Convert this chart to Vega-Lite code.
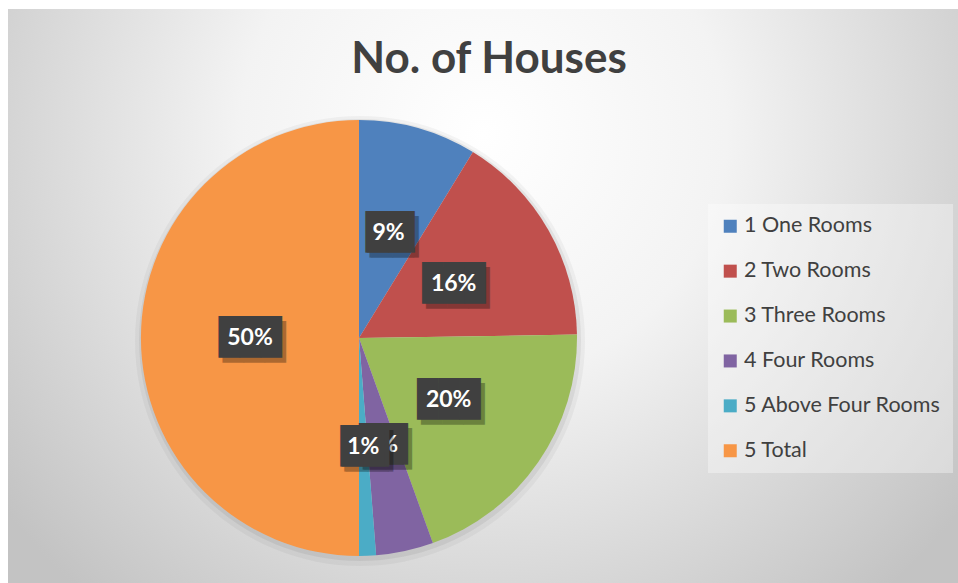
{
  "$schema": "https://vega.github.io/schema/vega-lite/v6.json",
  "width": 950,
  "height": 574,
  "autosize": "none",
  "padding": {"left": 8, "top": 9, "right": 0, "bottom": 0},
  "background": "#ffffff",
  "config": {"view": {"stroke": "#b8b8b8", "strokeWidth": 1}},
  "title": {
    "text": "No. of Houses",
    "font": "Lato",
    "fontSize": 44,
    "fontWeight": "bold",
    "color": "#404040",
    "anchor": "middle",
    "baseline": "middle",
    "offset": -95,
    "dx": 6
  },
  "datasets": {
    "houses": [
      {"category": "1 One Rooms", "houses": 35, "label": "9%"},
      {"category": "2 Two Rooms", "houses": 64, "label": "16%"},
      {"category": "3 Three Rooms", "houses": 79, "label": "20%"},
      {"category": "4 Four Rooms", "houses": 17, "label": "4%"},
      {"category": "5 Above Four Rooms", "houses": 5, "label": "1%"},
      {"category": "5 Total", "houses": 200, "label": "50%"}
    ]
  },
  "layer": [
    {
      "data": {"values": [{}]},
      "mark": {
        "type": "rect",
        "fill": {
          "gradient": "radial",
          "x1": 0.5, "y1": 0.33, "r1": 0,
          "x2": 0.5, "y2": 0.33, "r2": 0.64,
          "stops": [
            {"offset": 0, "color": "#ffffff"},
            {"offset": 0.4, "color": "#f3f3f3"},
            {"offset": 1, "color": "#c3c3c3"}
          ]
        }
      },
      "encoding": {}
    },
    {
      "data": {"values": [{}]},
      "mark": {"type": "arc", "x": 352, "y": 332, "outerRadius": 225, "fill": "#000000", "opacity": 0.04},
      "encoding": {"theta": {"value": 0}, "theta2": {"value": 6.2832}}
    },
    {
      "data": {"values": [{}]},
      "mark": {"type": "arc", "x": 352, "y": 331, "outerRadius": 221, "fill": "#000000", "opacity": 0.06},
      "encoding": {"theta": {"value": 0}, "theta2": {"value": 6.2832}}
    },
    {
      "data": {"name": "houses"},
      "mark": {"type": "arc", "outerRadius": 218, "x": 351, "y": 329},
      "encoding": {
        "theta": {"field": "houses", "type": "quantitative", "stack": true},
        "order": {"field": "category", "type": "ordinal"},
        "color": {
          "field": "category",
          "type": "nominal",
          "scale": {"range": ["#4F81BD", "#C0504D", "#9BBB59", "#8064A2", "#4BACC6", "#F79646"]},
          "legend": {
            "orient": "none",
            "legendX": 700,
            "legendY": 195,
            "title": null,
            "labelFont": "Lato",
            "labelFontSize": 21.5,
            "labelColor": "#404040",
            "labelLimit": 400,
            "labelOffset": 3,
            "symbolType": "square",
            "symbolSize": 169,
            "symbolStrokeWidth": 0,
            "padding": 11.5,
            "rowPadding": 21.9,
            "fillColor": "rgba(255,255,255,0.35)"
          }
        }
      }
    },
    {
      "data": {"name": "houses"},
      "mark": {"type": "text", "radius": 109, "x": 351, "y": 329, "font": "DejaVu Sans Mono", "fontSize": 35, "baseline": "middle", "align": "center", "fill": "#000000", "dx": 4, "dy": 5},
      "encoding": {
        "theta": {"field": "houses", "type": "quantitative", "stack": true},
        "order": {"field": "category", "type": "ordinal"},
        "opacity": {"condition": {"test": "datum.category === '5 Above Four Rooms'", "value": 0}, "value": 0.3},
        "text": {"condition": {"test": "length(datum.label) > 2", "value": "███"}, "value": "▕██▎"}
      }
    },
    {
      "data": {"name": "houses"},
      "mark": {"type": "text", "radius": 109, "x": 351, "y": 329, "font": "DejaVu Sans Mono", "fontSize": 35, "baseline": "middle", "align": "center", "fill": "#404040"},
      "encoding": {
        "theta": {"field": "houses", "type": "quantitative", "stack": true},
        "order": {"field": "category", "type": "ordinal"},
        "opacity": {"condition": {"test": "datum.category === '5 Above Four Rooms'", "value": 0}, "value": 1},
        "text": {"condition": {"test": "length(datum.label) > 2", "value": "███"}, "value": "▕██▎"}
      }
    },
    {
      "data": {"name": "houses"},
      "mark": {"type": "text", "radius": 109, "x": 351, "y": 329, "font": "Lato", "fontSize": 23, "fontWeight": "bold", "baseline": "middle", "align": "center", "fill": "#ffffff"},
      "encoding": {
        "theta": {"field": "houses", "type": "quantitative", "stack": true},
        "order": {"field": "category", "type": "ordinal"},
        "opacity": {"condition": {"test": "datum.category === '5 Above Four Rooms'", "value": 0}, "value": 1},
        "text": {"field": "label"}
      }
    },
    {
      "data": {"name": "houses"},
      "mark": {"type": "text", "radius": 109, "x": 351, "y": 329, "font": "DejaVu Sans Mono", "fontSize": 35, "baseline": "middle", "align": "center", "fill": "#000000", "dx": 4, "dy": 5},
      "encoding": {
        "theta": {"field": "houses", "type": "quantitative", "stack": true},
        "order": {"field": "category", "type": "ordinal"},
        "opacity": {"condition": {"test": "datum.category === '5 Above Four Rooms'", "value": 0.3}, "value": 0},
        "text": {"condition": {"test": "length(datum.label) > 2", "value": "███"}, "value": "▕██▎"}
      }
    },
    {
      "data": {"name": "houses"},
      "mark": {"type": "text", "radius": 109, "x": 351, "y": 329, "font": "DejaVu Sans Mono", "fontSize": 35, "baseline": "middle", "align": "center", "fill": "#404040"},
      "encoding": {
        "theta": {"field": "houses", "type": "quantitative", "stack": true},
        "order": {"field": "category", "type": "ordinal"},
        "opacity": {"condition": {"test": "datum.category === '5 Above Four Rooms'", "value": 1}, "value": 0},
        "text": {"condition": {"test": "length(datum.label) > 2", "value": "███"}, "value": "▕██▎"}
      }
    },
    {
      "data": {"name": "houses"},
      "mark": {"type": "text", "radius": 109, "x": 351, "y": 329, "font": "Lato", "fontSize": 23, "fontWeight": "bold", "baseline": "middle", "align": "center", "fill": "#ffffff"},
      "encoding": {
        "theta": {"field": "houses", "type": "quantitative", "stack": true},
        "order": {"field": "category", "type": "ordinal"},
        "opacity": {"condition": {"test": "datum.category === '5 Above Four Rooms'", "value": 1}, "value": 0},
        "text": {"field": "label"}
      }
    }
  ]
}
